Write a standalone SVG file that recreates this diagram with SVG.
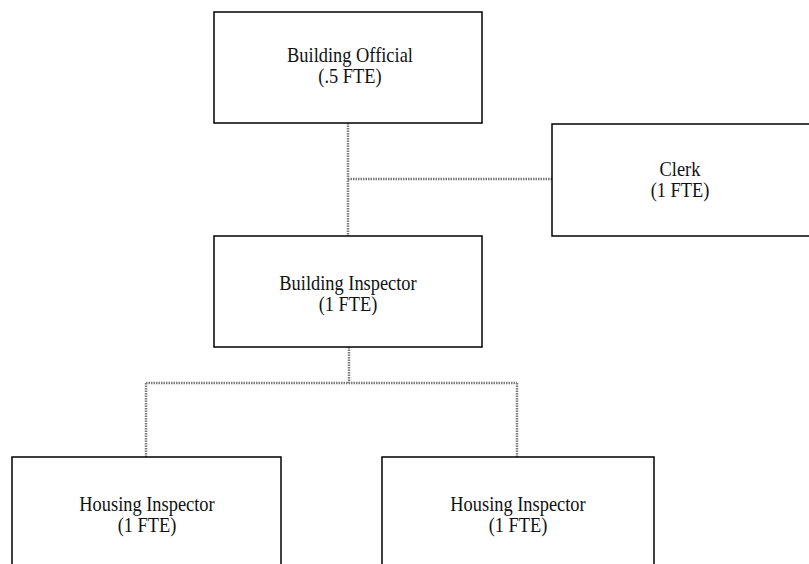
<svg xmlns="http://www.w3.org/2000/svg" width="809" height="564" viewBox="0 0 809 564">
<style>
.box{fill:#fff;stroke:#000;stroke-width:1.5}
.t{font-family:"Liberation Serif","Times New Roman",serif;font-size:20px;fill:#111;text-anchor:middle}
.c{fill:none;stroke:#7a7a7a;stroke-width:2.5;stroke-dasharray:1.5 1}
</style>
<rect width="809" height="564" fill="#fff"/>
<g id="connectors">
<path class="c" d="M348,123 V236 M348,179 H552"/>
<path class="c" d="M349,347 V383 M146,383 H517 M146,383 V457 M517,383 V457"/>
</g>
<g id="building-official">
<rect class="box" x="214" y="12" width="268" height="111"/>
<text class="t" transform="translate(350,62) scale(0.92,1)">Building Official</text>
<text class="t" transform="translate(350,83) scale(0.92,1)">(.5 FTE)</text>
</g>
<g id="clerk">
<rect class="box" x="552" y="124" width="262" height="112"/>
<text class="t" transform="translate(680,176) scale(0.92,1)">Clerk</text>
<text class="t" transform="translate(680,197) scale(0.92,1)">(1 FTE)</text>
</g>
<g id="building-inspector">
<rect class="box" x="214" y="236" width="268" height="111"/>
<text class="t" transform="translate(348,290) scale(0.92,1)">Building Inspector</text>
<text class="t" transform="translate(348,311) scale(0.92,1)">(1 FTE)</text>
</g>
<g id="housing-inspector-1">
<rect class="box" x="12" y="457" width="269" height="120"/>
<text class="t" transform="translate(147,511) scale(0.92,1)">Housing Inspector</text>
<text class="t" transform="translate(147,532) scale(0.92,1)">(1 FTE)</text>
</g>
<g id="housing-inspector-2">
<rect class="box" x="382" y="457" width="272" height="120"/>
<text class="t" transform="translate(518,511) scale(0.92,1)">Housing Inspector</text>
<text class="t" transform="translate(518,532) scale(0.92,1)">(1 FTE)</text>
</g>
</svg>
